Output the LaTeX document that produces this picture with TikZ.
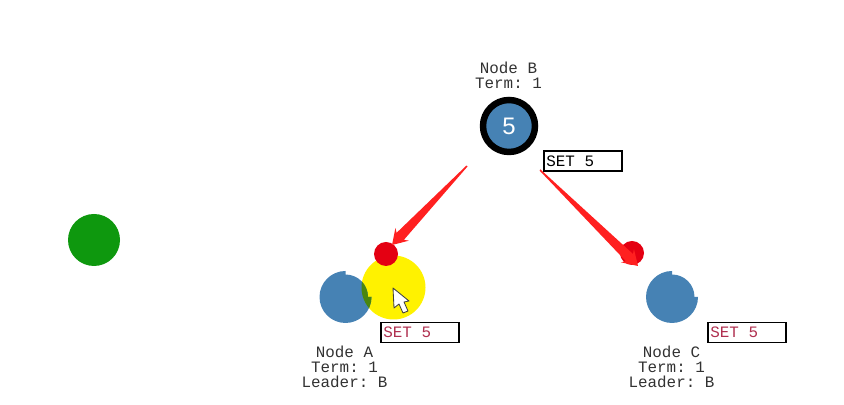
\documentclass[tikz,border=0pt]{standalone}
\usepackage{fontspec}
\setmainfont{Liberation Sans}
\setmonofont{Liberation Mono}
\usetikzlibrary{calc}
\definecolor{nodeblue}{RGB}{70,130,180}
\definecolor{overlapgreen}{RGB}{74,134,14}
\definecolor{leadergreen}{RGB}{14,152,14}
\definecolor{msgred}{RGB}{228,0,18}
\definecolor{markred}{RGB}{255,32,32}
\definecolor{settext}{RGB}{176,48,80}
\definecolor{monotext}{RGB}{50,50,50}
\tikzset{
  label/.style={font=\ttfamily\fontsize{11.3}{10.8}\selectfont, text=monotext, align=center, inner sep=0pt},
  setbox/.style={draw=black, line width=.75pt, fill=white, minimum width=19.5mm, minimum height=5mm, inner ysep=0pt, inner xsep=.6mm},
  msg/.style={circle, fill=msgred, minimum size=6mm, inner sep=0pt}
}
\newcommand{\setlabel}[1]{\makebox[18.3mm][l]{\ttfamily\fontsize{11.3}{11.3}\selectfont #1}}
\newcommand{\timerblob}[1]{([shift={(#1)}]26,0) arc[start angle=0,end angle=-270,radius=26] -- ([shift={(#1)}]0,22.5) arc[start angle=90,end angle=0,radius=22.5] -- cycle}
\newcommand{\redarrow}[2]{\fill[markred] ($(#1)!.5pt!-90:(#2)$) -- ($(#2)!8.5pt!(#1)!3.6pt!90:(#1)$) -- ($(#2)!10.5pt!(#1)!6.6pt!90:(#1)$) -- (#2) -- ($(#2)!10.5pt!(#1)!6.6pt!-90:(#1)$) -- ($(#2)!8.5pt!(#1)!3.6pt!-90:(#1)$) -- ($(#1)!.5pt!90:(#2)$) -- cycle;}
\begin{document}
\begin{tikzpicture}[x=.25mm,y=.25mm]
    \useasboundingbox (0,0) rectangle (844,405);
    \coordinate (nodeA) at (345.5,108);
    \coordinate (nodeC) at (672,108);
    \node[circle, fill=leadergreen, minimum size=13mm, inner sep=0pt] (leader) at (94,165) {};
    % node A under the yellow highlight
    \node[circle, fill=yellow, minimum size=16mm, inner sep=0pt] (spot) at (393.5,117.5) {};
    \fill[nodeblue] \timerblob{nodeA};
    \begin{scope}
        \clip \timerblob{nodeA};
        \fill[overlapgreen] (393.5,117.5) circle (32);
    \end{scope}
    \fill[nodeblue] \timerblob{nodeC};
    % node B
    \node[circle, fill=nodeblue, draw=black, line width=4.6pt, minimum size=13mm, inner sep=0pt, text=white, font=\fontsize{17}{17}\selectfont] (nodeB) at (509,279) {5};
    \node[label] (labelB) at (508.5,329.5) {Node B\\Term: 1};
    \node[label] (labelA) at (344.5,38) {Node A\\Term: 1\\Leader: B};
    \node[label] (labelC) at (671.5,38) {Node C\\Term: 1\\Leader: B};
    \node[setbox] (setB) at (583,244) {\setlabel{SET 5}};
    \node[setbox, text=settext] (setA) at (420,72.5) {\setlabel{SET 5}};
    \node[setbox, text=settext] (setC) at (747,72.5) {\setlabel{SET 5}};
    \node[msg] (msgA) at (386,151) {};
    \node[msg] (msgC) at (632,152) {};
    \coordinate (tailA) at (467,239);
    \coordinate (tipA) at (392,160);
    \coordinate (tailC) at (540,235);
    \coordinate (tipC) at (638,139);
    \redarrow{tailA}{tipA}
    \redarrow{tailC}{tipC}
    % mouse pointer
    \draw[fill=white, draw=black!75, line width=.6pt, line join=round] (393,117) -- (394,97) -- (399,101) -- (403,92) -- (408,94) -- (404,103) -- (409,104) -- cycle;
\end{tikzpicture}
\end{document}
